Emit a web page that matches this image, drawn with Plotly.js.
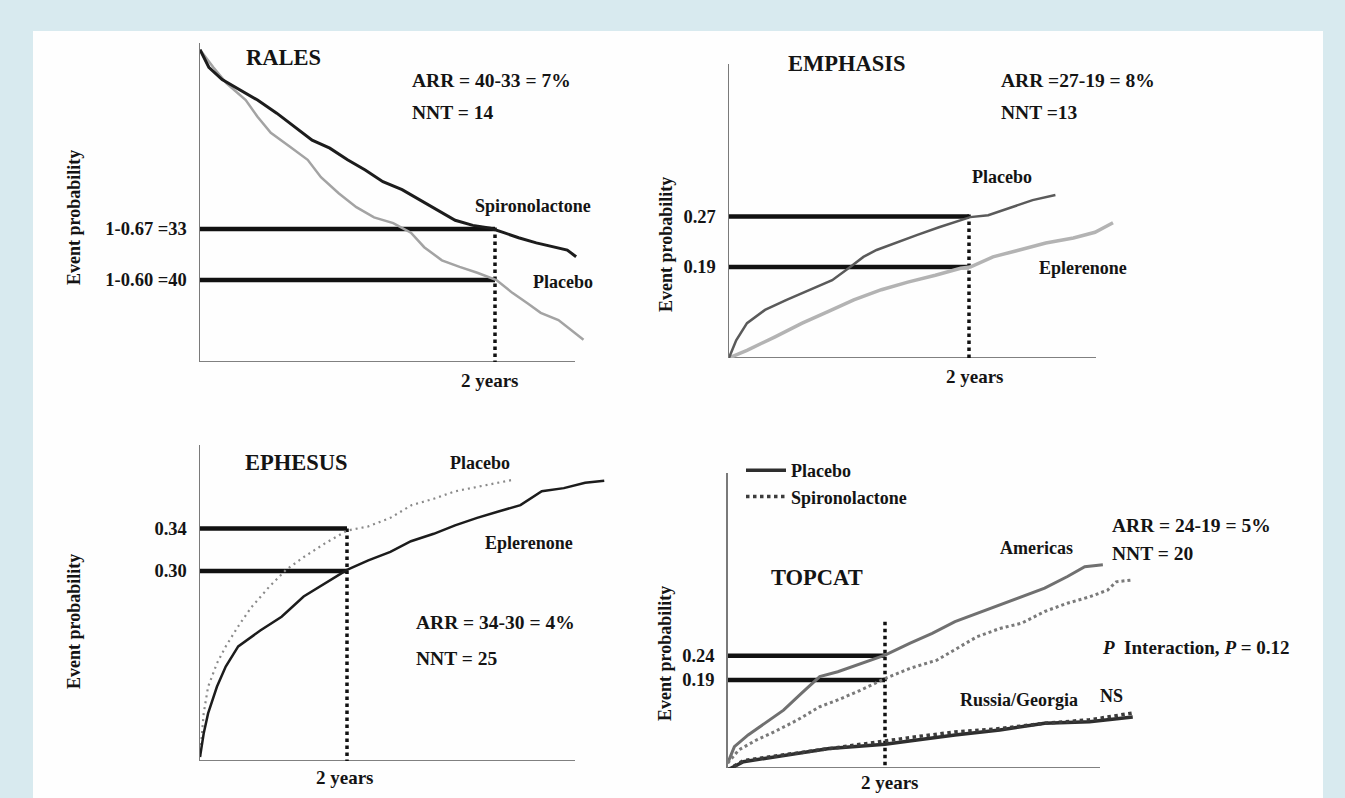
<!DOCTYPE html>
<html><head><meta charset="utf-8">
<script src="https://cdn.plot.ly/plotly-3.0.1.min.js"></script>
<style>html,body{margin:0;padding:0;background:#d8eaef;}#chart{width:1345px;height:798px;}</style>
</head><body><div id="chart"></div>
<script>
// ---------------- DATA ----------------
const followUpYears = 2;

// RALES (survival probability)
const ralesSpiroX = [0.00,0.06,0.15,0.27,0.39,0.52,0.64,0.76,0.88,1.00,1.12,1.24,1.37,1.49,1.61,1.73,1.85,1.97,2.06,2.16,2.28,2.40,2.49,2.55];
const ralesSpiroY = [0.916,0.892,0.875,0.861,0.847,0.829,0.810,0.792,0.781,0.765,0.751,0.735,0.724,0.710,0.696,0.682,0.675,0.671,0.665,0.658,0.651,0.645,0.641,0.632];
const ralesPlaceboX = [0.00,0.09,0.18,0.31,0.39,0.48,0.61,0.73,0.82,0.94,1.06,1.18,1.31,1.43,1.52,1.64,1.76,1.88,2.01,2.12,2.22,2.31,2.43,2.52,2.60];
const ralesPlaceboY = [0.916,0.892,0.870,0.847,0.824,0.802,0.783,0.765,0.741,0.719,0.700,0.686,0.678,0.665,0.645,0.627,0.618,0.610,0.600,0.582,0.568,0.555,0.545,0.531,0.518];
const ralesTickVals = [0.67, 0.60];
const ralesTickText = ['1-0.67 =33', '1-0.60 =40'];
const ralesDotTop = 0.672;

// EMPHASIS
const emphPlaceboX = [0,0.06,0.15,0.30,0.48,0.68,0.86,1.01,1.12,1.23,1.38,1.57,1.75,1.93,2.01,2.16,2.34,2.53,2.72];
const emphPlaceboY = [0.046,0.074,0.101,0.122,0.138,0.154,0.169,0.190,0.206,0.217,0.228,0.241,0.253,0.264,0.269,0.272,0.284,0.296,0.304];
const emphEplerX = [0,0.15,0.38,0.61,0.82,1.04,1.27,1.49,1.72,1.93,2.01,2.20,2.42,2.64,2.87,3.05,3.20];
const emphEplerY = [0.046,0.058,0.079,0.101,0.119,0.138,0.154,0.166,0.177,0.188,0.190,0.206,0.217,0.228,0.236,0.245,0.260];
const emphTickVals = [0.27, 0.19];
const emphTickText = ['0.27', '0.19'];
const emphDotTop = 0.273;

// EPHESUS
const ephPlaceboX = [0,0.05,0.11,0.23,0.35,0.52,0.70,0.94,1.17,1.41,1.70,2.00,2.29,2.59,2.88,3.18,3.47,3.77,4.06,4.27];
const ephPlaceboY = [0.125,0.166,0.191,0.213,0.229,0.248,0.266,0.285,0.301,0.313,0.326,0.338,0.342,0.350,0.362,0.368,0.375,0.379,0.383,0.386];
const ephEplerX = [0,0.05,0.11,0.23,0.35,0.52,0.82,1.11,1.41,1.70,2.00,2.29,2.59,2.87,3.18,3.47,3.77,4.06,4.36,4.65,4.95,5.24,5.50];
const ephEplerY = [0.125,0.147,0.166,0.191,0.210,0.229,0.244,0.257,0.276,0.288,0.301,0.310,0.318,0.328,0.335,0.343,0.350,0.356,0.362,0.375,0.378,0.383,0.385];
const ephTickVals = [0.34, 0.30];
const ephTickText = ['0.34', '0.30'];
const ephDotTop = 0.34;

// TOPCAT
const tcAmPlaceboX = [0,0.085,0.26,0.49,0.71,0.94,1.17,1.40,1.69,2.00,2.32,2.60,2.89,3.17,3.46,3.74,4.03,4.32,4.54,4.77];
const tcAmPlaceboY = [0.019,0.053,0.077,0.104,0.128,0.163,0.197,0.207,0.224,0.241,0.266,0.286,0.310,0.327,0.344,0.361,0.379,0.403,0.423,0.427];
const tcAmSpiroX = [0,0.14,0.37,0.60,0.89,1.17,1.40,1.69,2.00,2.32,2.66,2.89,3.17,3.46,3.74,4.03,4.32,4.60,4.83,4.94,5.15];
const tcAmSpiroY = [0.019,0.046,0.067,0.084,0.108,0.135,0.149,0.169,0.193,0.214,0.231,0.252,0.279,0.296,0.307,0.331,0.348,0.361,0.375,0.392,0.396];
const tcRuX = [0,0.20,0.49,0.89,1.29,1.63,2.00,2.43,2.89,3.46,4.03,4.60,5.15];
const tcRuPlaceboY = [0.005,0.022,0.029,0.039,0.049,0.053,0.058,0.067,0.077,0.087,0.101,0.104,0.114];
const tcRuSpiroY = [0.005,0.024,0.031,0.040,0.049,0.056,0.066,0.074,0.083,0.090,0.101,0.108,0.122];
const tcTickVals = [0.24, 0.19];
const tcTickText = ['0.24', '0.19'];
const tcDotTop = 0.31;

// ---------------- LAYOUT GEOMETRY (pixels) ----------------
const W = 1345, H = 798;
const fx = p => p / W;
const fy = p => 1 - p / H;
function lin(p, a, b) { return a[1] + (p - a[0]) * (b[1] - a[1]) / (b[0] - a[0]); }

const panels = [
  {x0:200, x2:495, xR:600, xEnd:575, yTop:43, yBot:362, cal:[[229,0.67],[280,0.60]], tv:ralesTickVals, tt:ralesTickText, dotTop:ralesDotTop},
  {x0:729, x2:969, xR:1125, xEnd:1096, yTop:64, yBot:358, cal:[[216.5,0.27],[267,0.19]], tv:emphTickVals, tt:emphTickText, dotTop:emphDotTop},
  {x0:200, x2:347, xR:615, xEnd:575, yTop:445, yBot:761, cal:[[528.5,0.34],[571,0.30]], tv:ephTickVals, tt:ephTickText, dotTop:ephDotTop},
  {x0:727.7, x2:885, xR:1140, xEnd:1100, yTop:473, yBot:768, cal:[[655.7,0.24],[680,0.19]], tv:tcTickVals, tt:tcTickText, dotTop:tcDotTop}
];

const FONT = 'Liberation Serif, Times New Roman, serif';
const TXT = '#141414';
const layout = {
  width: W, height: H,
  margin: {l:0, r:0, t:0, b:0},
  paper_bgcolor: '#d8eaef',
  plot_bgcolor: 'rgba(0,0,0,0)',
  font: {family: FONT, color: TXT, size: 16},
  showlegend: true,
  legend: {x: fx(741), y: fy(452), xanchor: 'left', yanchor: 'top', bgcolor: 'rgba(0,0,0,0)',
           font: {family: FONT, size: 18, color: TXT}, tracegroupgap: 0, itemwidth: 40},
  shapes: [
    {type:'rect', xref:'paper', yref:'paper', x0:fx(33), x1:fx(1323), y0:0, y1:fy(31), fillcolor:'#fefefe', line:{width:0}, layer:'below'}
  ],
  annotations: []
};

const traces = [];
panels.forEach((p, i) => {
  const n = i === 0 ? '' : String(i + 1);
  const xa = 'xaxis' + n, ya = 'yaxis' + n, xr = 'x' + n, yr = 'y' + n;
  const xcal = [[p.x0, 0], [p.x2, followUpYears]];
  const yMin = lin(p.yBot, p.cal[0], p.cal[1]);
  const yMax = lin(p.yTop, p.cal[0], p.cal[1]);
  layout[xa] = {domain:[fx(p.x0), fx(p.xR)], range:[0, lin(p.xR, xcal[0], xcal[1])], visible:false, anchor:yr, fixedrange:true};
  layout[ya] = {domain:[fy(p.yBot), fy(p.yTop)], range:[yMin, yMax], anchor:xr, showline:true, linecolor:'#7a7a7a', linewidth:1.5,
    showgrid:false, zeroline:false, ticks:'', tickvals:p.tv, ticktext:p.tt.map(t => '<b>' + t + '</b>'),
    tickfont:{family:FONT, size:18.5, color:TXT}, ticklabelstandoff:8, fixedrange:true};
  // x-axis baseline
  layout.shapes.push({type:'line', xref:xr, yref:yr, x0:0, x1:lin(p.xEnd, xcal[0], xcal[1]), y0:yMin, y1:yMin,
    line:{color:'#808080', width:2}, layer:'below'});
  // reference horizontal lines at tick values
  p.tv.forEach(v => traces.push({x:[0, followUpYears], y:[v, v], xaxis:xr, yaxis:yr, mode:'lines',
    line:{color:'#111', width:4.5}, showlegend:false, hoverinfo:'skip'}));
  // dotted vertical at 2 years
  traces.push({x:[followUpYears, followUpYears], y:[p.dotTop, yMin], xaxis:xr, yaxis:yr, mode:'lines',
    line:{color:'#111', width:3.5, dash:'dot'}, showlegend:false, hoverinfo:'skip'});
});

function curve(x, y, ax, color, width, dash, name, legend) {
  traces.push({x:x, y:y, xaxis:'x' + ax, yaxis:'y' + ax, mode:'lines', name:name,
    line:{color:color, width:width, dash:dash || 'solid'}, showlegend:!!legend, hoverinfo:'skip'});
}
// RALES
curve(ralesPlaceboX, ralesPlaceboY, '', '#a3a3a3', 2.5);
curve(ralesSpiroX, ralesSpiroY, '', '#1c1c1c', 3);
// EMPHASIS
curve(emphEplerX, emphEplerY, '2', '#b3b3b3', 3.5);
curve(emphPlaceboX, emphPlaceboY, '2', '#5a5a5a', 2.5);
// EPHESUS
curve(ephPlaceboX, ephPlaceboY, '3', '#8a8a8a', 2.2, '2px,4px');
curve(ephEplerX, ephEplerY, '3', '#1c1c1c', 2.5);
// TOPCAT
curve(tcAmPlaceboX, tcAmPlaceboY, '4', '#707070', 3);
curve(tcAmSpiroX, tcAmSpiroY, '4', '#7a7a7a', 3, 'dot');
curve(tcRuX, tcRuPlaceboY, '4', '#2e2e2e', 3.5, 'solid', '<b>Placebo</b>', true);
curve(tcRuX, tcRuSpiroY, '4', '#3c3c3c', 3.5, 'dot', '<b>Spironolactone</b>', true);

function ann(text, x, y, size, xanchor, angle) {
  layout.annotations.push({text:'<b>' + text + '</b>', xref:'paper', yref:'paper', x:fx(x), y:fy(y),
    xanchor:xanchor || 'center', yanchor:'middle', showarrow:false, textangle:angle || 0,
    font:{family:FONT, size:size, color:TXT}});
}
// RALES
ann('RALES', 283, 58, 22.5);
ann('ARR = 40-33 = 7%', 410, 80, 19.5, 'left');
ann('NNT = 14', 410, 112, 19.5, 'left');
ann('Spironolactone', 533, 206, 18);
ann('Placebo', 563, 282, 18);
ann('Event probability', 74, 218, 18, 'center', -90);
ann('2 years', 490, 380, 19);
// EMPHASIS
ann('EMPHASIS', 847, 63, 22.5);
ann('ARR =27-19 = 8%', 999, 81, 19.5, 'left');
ann('NNT =13', 999, 113, 19.5, 'left');
ann('Placebo', 1002, 177, 18);
ann('Eplerenone', 1083, 268, 18);
ann('Event probability', 666, 245, 18, 'center', -90);
ann('2 years', 975, 377, 19);
// EPHESUS
ann('EPHESUS', 296, 462, 22.5);
ann('Placebo', 480, 463, 18);
ann('Eplerenone', 529, 543, 18);
ann('ARR = 34-30 = 4%', 414, 622, 19.5, 'left');
ann('NNT = 25', 414, 658, 19.5, 'left');
ann('Event probability', 74, 622, 18, 'center', -90);
ann('2 years', 345, 777, 19);
// TOPCAT
ann('TOPCAT', 817, 577, 22.5);
ann('Americas', 1036, 548, 18);
ann('ARR = 24-19 = 5%', 1110, 525, 19.5, 'left');
ann('NNT = 20', 1110, 553, 19.5, 'left');
layout.annotations.push({text:'<b><i>P</i>  Interaction, <i>P</i> = 0.12</b>', xref:'paper', yref:'paper', x:fx(1100), y:fy(647),
  xanchor:'left', yanchor:'middle', showarrow:false, font:{family:FONT, size:19, color:TXT}});
ann('Russia/Georgia', 1019, 700, 18);
ann('NS', 1111, 696, 18);
ann('Event probability', 665, 654, 18, 'center', -90);
ann('2 years', 890, 782, 19);

Plotly.newPlot('chart', traces, layout, {displayModeBar:false, staticPlot:true});
</script>
</body></html>
